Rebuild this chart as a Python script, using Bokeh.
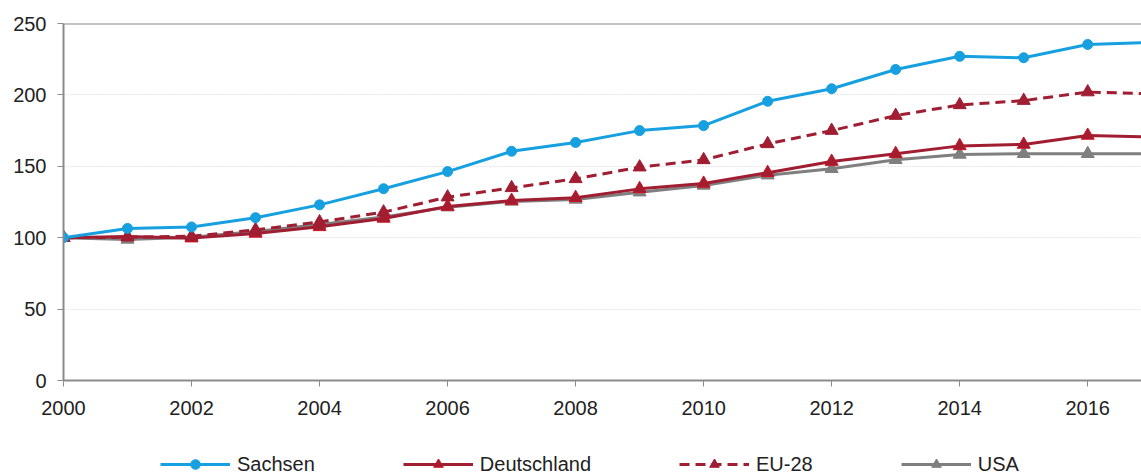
from bokeh.plotting import figure
from bokeh.models import Range1d, FixedTicker, Legend, LegendItem, Span
from bokeh.layouts import column
from bokeh.embed import file_html
from bokeh.resources import INLINE

years = list(range(2000, 2018))
sachsen = [100, 106.5, 107.5, 114, 123, 134.3, 146.3, 160.5, 166.7, 175, 178.5, 195.5, 204.3, 217.8, 227, 226, 235.3, 236.8]
deutschland = [100, 100.8, 99.7, 103, 107.6, 113.5, 121.8, 126, 128, 134.2, 138, 145.5, 153.3, 158.8, 164.3, 165.3, 171.6, 170.5]
eu28 = [100, 100.3, 101, 105.5, 111, 117.9, 128.4, 134.9, 141.2, 149.4, 154.5, 165.7, 175, 185.5, 193, 196, 202, 200.8]
usa = [100, 98.8, 100.3, 104.3, 109.2, 114.5, 121.4, 125.4, 126.8, 131.9, 136.6, 143.8, 148.3, 154.6, 158.3, 158.8, 158.8, 158.8]
series_names = ["Sachsen", "Deutschland", "EU-28", "USA"]

x_ticks = list(range(2000, 2017, 2))
y_ticks = [0, 50, 100, 150, 200, 250]

FONT = "Liberation Sans"
AXIS_GRAY = "#8C8C8C"

p = figure(frame_width=1078, frame_height=357, output_backend="svg", toolbar_location=None,
           x_range=Range1d(2000, 2016.84), y_range=Range1d(0, 250),
           min_border_left=63, min_border_top=23, min_border_right=0, min_border_bottom=48)
p.outline_line_color = None
p.background_fill_color = "white"
p.border_fill_color = "white"

for ax in (p.xaxis[0], p.yaxis[0]):
    ax.axis_line_color = AXIS_GRAY
    ax.axis_line_width = 2
    ax.major_tick_line_color = AXIS_GRAY
    ax.major_tick_line_width = 1
    ax.major_tick_in = 0
    ax.major_tick_out = 6
    ax.minor_tick_line_color = None
    ax.major_label_text_font = FONT
    ax.major_label_text_font_size = "20px"
    ax.major_label_text_color = "#222222"

p.xaxis[0].ticker = FixedTicker(ticks=x_ticks)
p.yaxis[0].ticker = FixedTicker(ticks=y_ticks)
p.xaxis[0].major_label_standoff = 14
p.yaxis[0].major_label_standoff = 11

p.xgrid.grid_line_color = None
p.ygrid.ticker = FixedTicker(ticks=[50, 100, 150, 200])
p.ygrid.grid_line_color = "#D0D0D0"
p.ygrid.grid_line_dash = "1 2"
p.ygrid.grid_line_width = 1

p.add_layout(Span(location=250, dimension="width", line_color=AXIS_GRAY, line_width=2))

c_sax = "#16A0E0"
c_de = "#A01D32"
c_de_edge = "#D0101E"
c_eu = "#A01D32"
c_us = "#7F7F7F"

styles = {
    "Sachsen": dict(color=c_sax, marker="circle", size=10, edge=c_sax, dash="solid"),
    "Deutschland": dict(color=c_de, marker="triangle", size=13, edge=c_de_edge, dash="solid"),
    "EU-28": dict(color=c_eu, marker="triangle", size=13, edge=c_eu, dash="10 6"),
    "USA": dict(color=c_us, marker="triangle", size=13, edge=c_us, dash="solid"),
}
data = {"Sachsen": sachsen, "Deutschland": deutschland, "EU-28": eu28, "USA": usa}

for name in ["USA", "Deutschland", "EU-28", "Sachsen"]:
    s = styles[name]
    p.line(years, data[name], line_color=s["color"], line_width=3, line_dash=s["dash"])
    p.scatter(years, data[name], marker=s["marker"], size=s["size"],
              fill_color=s["color"], line_color=s["edge"])

# legend strip below the chart
lg = figure(width=1141, height=45, output_backend="svg", toolbar_location=None,
            x_range=Range1d(0, 1), y_range=Range1d(0, 1), min_border=0)
lg.axis.visible = False
lg.grid.visible = False
lg.outline_line_color = None
lg.background_fill_color = "white"
lg.border_fill_color = "white"

nan = float("nan")
items = []
for name in series_names:
    s = styles[name]
    rl = lg.line([nan], [nan], line_color=s["color"], line_width=3, line_dash=s["dash"])
    rm = lg.scatter([nan], [nan], marker=s["marker"], size=s["size"], fill_color=s["color"], line_color=s["edge"])
    items.append(LegendItem(label=name, renderers=[rl, rm]))

legend = Legend(items=items, orientation="horizontal", location=(97, -3), glyph_width=70,
                glyph_height=24, label_standoff=7, spacing=88, padding=0, margin=0,
                border_line_color=None, background_fill_alpha=0, label_text_font=FONT,
                label_text_font_size="20px", label_text_color="#222222")
lg.add_layout(legend, "center")

layout = column(p, lg, spacing=0)
open("out.html", "w").write(file_html(layout, INLINE))
